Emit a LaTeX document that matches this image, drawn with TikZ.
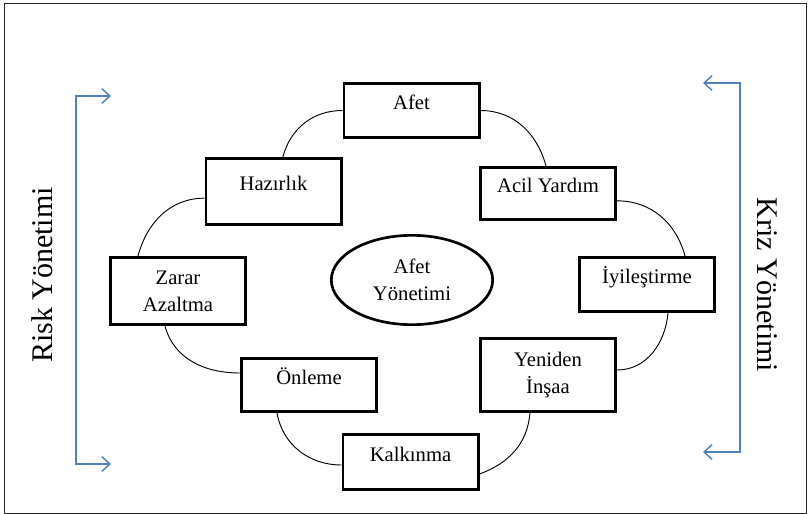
\documentclass[tikz,border=0pt]{standalone}
\usepackage{fontspec}
\setmainfont{Liberation Serif}
\usepackage{tikz}
\usetikzlibrary{arrows.meta,positioning,shapes.geometric}
\definecolor{bracketblue}{RGB}{79,129,189}

\begin{document}
\begin{tikzpicture}[
    x = 0.75pt, y = -0.75pt,
    box/.style = {rectangle, draw, line width=2pt, minimum width=101.5pt, align=center, font=\fontsize{15.5}{20.5}\selectfont},
    onerow/.style = {text height=11pt, text depth=12pt},
    link/.style = {line width=0.7pt},
    bracket/.style = {{Straight Barb[length=6pt,width=11pt]}-{Straight Barb[length=6pt,width=11pt]}, draw=bracketblue, line width=1.1pt},
    side/.style = {font=\fontsize{22.5}{27}\selectfont}
]

\useasboundingbox (0,0) rectangle (808,514);

% Frame
\draw[line width=0.6pt, draw=black!85] (4,3) rectangle (806,513);

% Cycle
\node[box, onerow, minimum height=40.75pt] (afet) at (411.5,110.5) {Afet};
\node[box, onerow, minimum height=49.75pt] (hazirlik) at (273.5,191.5) {Hazırlık};
\node[box, onerow, minimum height=39.25pt] (acil) at (548,193.5) {Acil Yardım};
\node[box, onerow, minimum height=40.75pt] (iyilestirme) at (647,284.5) {İyileştirme};
\node[box, minimum height=50.5pt] (zarar) at (178,291) {Zarar\\Azaltma};
\node[box, onerow, minimum height=40pt] (onleme) at (309,385) {Önleme};
\node[box, minimum height=55pt] (yeniden) at (548,375) {Yeniden\\İnşaa};
\node[box, onerow, minimum height=41.5pt] (kalkinma) at (410.5,462) {Kalkınma};

% Centre
\node[ellipse, draw, line width=2pt, minimum width=121pt, minimum height=67pt, align=center, font=\fontsize{15.5}{20.5}\selectfont] (merkez) at (412,280) {Afet\\Yönetimi};

% Arcs
\draw[link] (afet.west) to[out=180, in=75] ([xshift=7pt]hazirlik.north);
\draw[link] (afet.east) to[out=0, in=105] ([xshift=-1.5pt]acil.north);
\draw[link] ([yshift=-5pt]hazirlik.west) to[out=180, in=75] ([xshift=-30pt]zarar.north);
\draw[link] ([yshift=-5.5pt]acil.east) to[out=0, in=105] ([xshift=28.5pt]iyilestirme.north);
\draw[link] ([xshift=-9.75pt]zarar.south) to[out=-75, in=180] ([yshift=9pt]onleme.west);
\draw[link] ([xshift=15.75pt]iyilestirme.south) to[out=-95, in=0] ([yshift=3.75pt]yeniden.east);
\draw[link] ([xshift=-24pt]onleme.south) to[out=-80, in=180] ([yshift=-2.25pt]kalkinma.west);
\draw[link] ([xshift=-13.5pt]yeniden.south) to[out=-95, in=20] ([yshift=-9pt]kalkinma.east);

% Brackets
\coordinate (rtop) at (111,96);
\coordinate (rbot) at (111,464);
\coordinate (ktop) at (703,83);
\coordinate (kbot) at (703,452);
\draw[bracket] (rtop) -- ++(-35,0) |- (rbot);
\draw[bracket] (ktop) -- ++(37,0) |- (kbot);

\node[side, rotate=90] (risk) at (42,275) {Risk Yönetimi};
\node[side, rotate=-90] (kriz) at (767,285) {Kriz Yönetimi};

\end{tikzpicture}
\end{document}
